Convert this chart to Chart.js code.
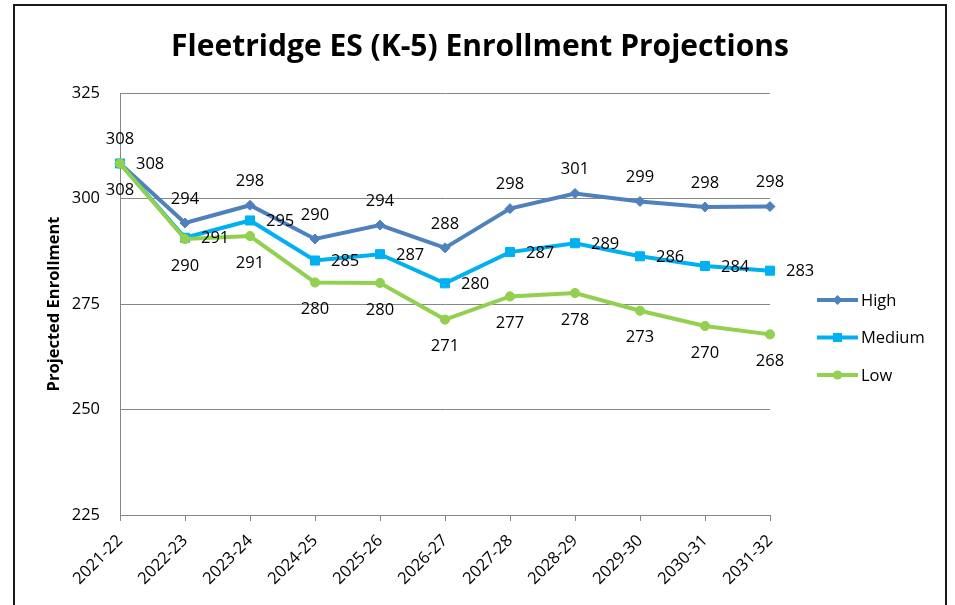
<!DOCTYPE html>
<html>
<head>
<meta charset="utf-8">
<script src="https://cdn.jsdelivr.net/npm/chart.js@4.4.0/dist/chart.umd.min.js"></script>
<style>
  html, body { margin: 0; padding: 0; background: #fff; }
  #wrap { position: relative; width: 955px; height: 605px; }
</style>
</head>
<body>
<div id="wrap"><canvas id="chart" width="955" height="605"></canvas></div>
<script>
// values
const years = ['2021-22', '2022-23', '2023-24', '2024-25', '2025-26', '2026-27',
               '2027-28', '2028-29', '2029-30', '2030-31', '2031-32'];
const high   = [308.3, 294.2, 298.4, 290.4, 293.7, 288.3, 297.6, 301.2, 299.3, 298.0, 298.1];
const medium = [308.3, 290.7, 294.8, 285.3, 286.8, 279.9, 287.3, 289.4, 286.3, 284.0, 282.9];
const low    = [308.3, 290.4, 291.1, 280.1, 280.0, 271.3, 276.8, 277.6, 273.4, 269.8, 267.8];
const seriesNames = ['High', 'Medium', 'Low'];
const yTicks = [225, 250, 275, 300, 325];

const FONT = '"Open Sans"';
const GRID = '#868686';

// draws the rounded value next to each point (above / right / below)
const valueLabels = {
    id: 'valueLabels',
    afterDatasetsDraw(chart) {
        const ctx = chart.ctx;
        ctx.save();
        ctx.font = '16.5px ' + FONT;
        ctx.fillStyle = '#000';
        ctx.textBaseline = 'middle';
        chart.data.datasets.forEach((ds, i) => {
            const meta = chart.getDatasetMeta(i);
            meta.data.forEach((pt, j) => {
                const txt = String(Math.round(ds.data[j]));
                if (ds.labelPos === 'above') {
                    ctx.textAlign = 'center';
                    ctx.fillText(txt, pt.x, pt.y - 24);
                } else if (ds.labelPos === 'right') {
                    ctx.textAlign = 'left';
                    ctx.fillText(txt, pt.x + 16, pt.y + 1);
                } else {
                    ctx.textAlign = 'center';
                    ctx.fillText(txt, pt.x, pt.y + 27);
                }
            });
        });
        ctx.restore();
    }
};

function drawMarker(ctx, style, x, y, r) {
    ctx.beginPath();
    if (style === 'rectRot') {
        ctx.moveTo(x, y - r);
        ctx.lineTo(x + r, y);
        ctx.lineTo(x, y + r);
        ctx.lineTo(x - r, y);
        ctx.closePath();
    } else if (style === 'rect') {
        const h = r * Math.SQRT1_2;
        ctx.rect(x - h, y - h, 2 * h, 2 * h);
    } else {
        ctx.arc(x, y, r, 0, Math.PI * 2);
    }
    ctx.fill();
}

// Excel style legend: line with marker, text on the right
const sideLegend = {
    id: 'sideLegend',
    afterDraw(chart) {
        const ctx = chart.ctx;
        const x0 = 817, x1 = 858, top = 300, gap = 37.5;
        ctx.save();
        chart.data.datasets.forEach((ds, i) => {
            const y = top + i * gap;
            ctx.strokeStyle = ds.borderColor;
            ctx.lineWidth = 4;
            ctx.beginPath();
            ctx.moveTo(x0, y);
            ctx.lineTo(x1, y);
            ctx.stroke();
            ctx.fillStyle = ds.borderColor;
            drawMarker(ctx, ds.pointStyle, (x0 + x1) / 2, y, ds.pointRadius);
            ctx.fillStyle = '#000';
            ctx.font = '16.5px ' + FONT;
            ctx.textAlign = 'left';
            ctx.textBaseline = 'middle';
            ctx.fillText(ds.label, x1 + 3, y + 1);
        });
        ctx.restore();
    }
};

const frame = {
    id: 'frame',
    afterDraw(chart) {
        const ctx = chart.ctx;
        ctx.save();
        ctx.strokeStyle = '#1a1a1a';
        ctx.lineWidth = 2;
        ctx.strokeRect(14, 5, 932, 700);
        ctx.restore();
    }
};

function series(label, data, color, pointStyle, radius, labelPos, order) {
    return {
        label: label,
        data: data,
        borderColor: color,
        backgroundColor: color,
        pointBackgroundColor: color,
        pointBorderColor: color,
        pointBorderWidth: 1,
        pointStyle: pointStyle,
        pointRadius: radius,
        borderWidth: 4,
        tension: 0,
        labelPos: labelPos,
        order: order
    };
}

new Chart(document.getElementById('chart'), {
    type: 'line',
    data: {
        labels: years,
        datasets: [
            series(seriesNames[0], high, '#4F81BD', 'rectRot', 5, 'above', 3),
            series(seriesNames[1], medium, '#00B0F0', 'rect', 6.4, 'right', 2),
            series(seriesNames[2], low, '#92D050', 'circle', 4.6, 'below', 1)
        ]
    },
    options: {
        responsive: false,
        animation: false,
        layout: {padding: {left: 14, right: 9, top: 5, bottom: 0}},
        plugins: {
            legend: {display: false},
            tooltip: {enabled: false},
            title: {
                display: true,
                text: 'Fleetridge ES (K-5) Enrollment Projections',
                color: '#000',
                font: {family: FONT, size: 30, weight: 'bold'},
                padding: {top: 24, bottom: 28}
            }
        },
        scales: {
            x: {
                offset: false,
                grid: {drawOnChartArea: false, drawTicks: true, tickLength: 6, color: GRID},
                border: {color: GRID, width: 1},
                ticks: {minRotation: 45, maxRotation: 45, color: '#000', padding: 10,
                        font: {family: FONT, size: 16.5}},
                afterFit(s) { s.height = 90; }
            },
            y: {
                min: yTicks[0],
                max: yTicks[yTicks.length - 1],
                afterBuildTicks(s) { s.ticks = yTicks.map(v => ({value: v})); },
                grid: {color: GRID, drawTicks: false},
                border: {color: GRID, width: 1},
                ticks: {color: '#000', padding: 20, font: {family: FONT, size: 16.5}},
                title: {
                    display: true,
                    text: 'Projected Enrollment',
                    color: '#000',
                    font: {family: FONT, size: 16.5, weight: 'bold'},
                    padding: {top: 30, bottom: 0}
                },
                afterFit(s) { s.width = 106; }
            },
            // empty box on the right that keeps room for the legend
            side: {
                position: 'right',
                display: true,
                grid: {display: false},
                border: {display: false},
                ticks: {display: false},
                afterFit(s) { s.width = 176; }
            }
        }
    },
    plugins: [valueLabels, sideLegend, frame]
});
</script>
</body>
</html>
